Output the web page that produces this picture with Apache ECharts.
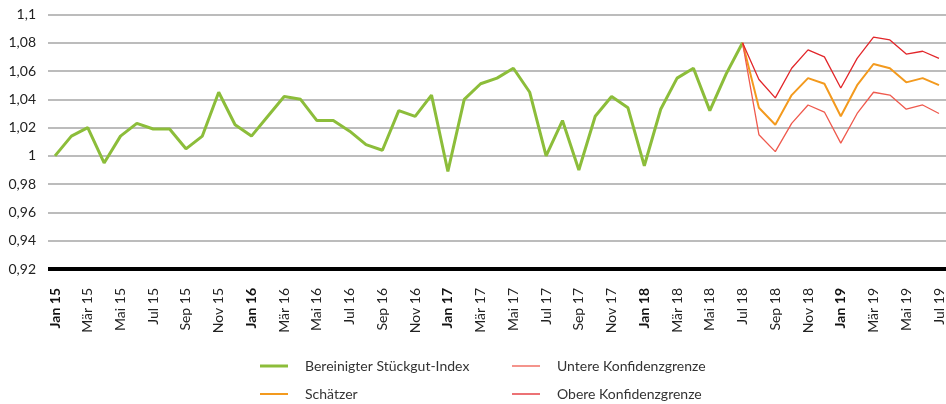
<!DOCTYPE html>
<html>
<head>
<meta charset="utf-8">
<script src="https://cdn.jsdelivr.net/npm/echarts@6/dist/echarts.min.js"></script>
<style>html,body{margin:0;padding:0;background:#fff}#c{width:946px;height:404px}</style>
</head>
<body>
<div id="c"></div>
<script>
const months = ['Jan','Feb','Mär','Apr','Mai','Jun','Jul','Aug','Sep','Okt','Nov','Dez'];
const categories = [];
for (let y = 15; y <= 19; y++) for (let m = 0; m < 12; m++) { if (y === 19 && m > 6) break; categories.push(months[m] + ' ' + y); }

const indexValues = [
  1.000, 1.014, 1.020, 0.995, 1.014, 1.023, 1.019, 1.019, 1.005, 1.014, 1.045, 1.022,
  1.014, 1.028, 1.042, 1.040, 1.025, 1.025, 1.0175, 1.008, 1.004, 1.032, 1.028, 1.043,
  0.989, 1.040, 1.051, 1.055, 1.062, 1.045, 1.000, 1.025, 0.990, 1.028, 1.042, 1.034,
  0.993, 1.033, 1.055, 1.062, 1.032, 1.058, 1.080
];
// forecast values from Jul 18 to Jul 19
const estimate = [1.080, 1.034, 1.022, 1.043, 1.055, 1.051, 1.028, 1.050, 1.065, 1.062, 1.052, 1.055, 1.050];
const lowerBound = [1.080, 1.015, 1.003, 1.023, 1.036, 1.031, 1.009, 1.030, 1.045, 1.043, 1.033, 1.036, 1.030];
const upperBound = [1.080, 1.054, 1.041, 1.062, 1.075, 1.070, 1.048, 1.069, 1.084, 1.082, 1.072, 1.074, 1.069];
const yTicks = {min: 0.92, max: 1.1, interval: 0.02};

const forecastStart = indexValues.length - 1;
function pad(arr) { return new Array(forecastStart).fill(null).concat(arr); }

const FONT = 'Lato';
const C_GREEN = '#8cbd3a', C_ORANGE = '#f39a1e', C_LOW = '#ef5a4e', C_UP = '#e2262a';

function legendItem(name, left, top, h, color) {
  return {left: left, top: top, padding: 0, icon: 'rect', itemWidth: 28, itemHeight: h,
    itemStyle: {color: color}, selectedMode: false,
    textStyle: {fontSize: 14, color: '#333', fontFamily: FONT, padding: [0, 0, 0, 12]},
    data: [name]};
}

const chart = echarts.init(document.getElementById('c'));
chart.setOption({
  animation: false,
  textStyle: {fontFamily: FONT},
  grid: [
    {left: 48, right: 0, top: 14.5, bottom: 135},
    {left: 55, right: 4, top: 14.5, bottom: 135}
  ],
  xAxis: [
    {gridIndex: 0, type: 'category', data: categories, show: false},
    {gridIndex: 1, type: 'category', data: categories, boundaryGap: false,
     axisLine: {show: false}, axisTick: {show: false},
     axisLabel: {interval: 1, rotate: 90, margin: 19, fontSize: 14, color: '#222', fontFamily: FONT,
       formatter: function (v) { return v.indexOf('Jan') === 0 ? '{b|' + v + '}' : v; },
       rich: {b: {fontWeight: 'bold', fontSize: 14, color: '#111', fontFamily: FONT}}}}
  ],
  yAxis: [
    {gridIndex: 0, type: 'value', min: yTicks.min, max: yTicks.max, interval: yTicks.interval,
     axisLine: {show: false}, axisTick: {show: false},
     axisLabel: {margin: 12, fontSize: 14, color: '#222', fontFamily: FONT,
       formatter: function (v) { return String(parseFloat(v.toFixed(2))).replace('.', ','); }},
     splitLine: {show: true, lineStyle: {color: '#a6a6a6', width: 1.5}}},
    {gridIndex: 1, type: 'value', min: yTicks.min, max: yTicks.max, interval: yTicks.interval, show: false,
     splitLine: {show: false}}
  ],
  legend: [
    legendItem('Bereinigter Stückgut-Index', 260, 359, 3, C_GREEN),
    legendItem('Schätzer', 260, 387, 2, C_ORANGE),
    legendItem('Untere Konfidenzgrenze', 512, 359, 1.3, C_LOW),
    legendItem('Obere Konfidenzgrenze', 512, 387, 1.3, C_UP)
  ],
  series: [
    {type: 'line', name: '__base', xAxisIndex: 0, yAxisIndex: 0, data: [], silent: true,
     markLine: {symbol: 'none', silent: true, label: {show: false},
       lineStyle: {color: '#000', width: 4, type: 'solid'}, data: [{yAxis: yTicks.min}]}},
    {type: 'line', name: 'Bereinigter Stückgut-Index', xAxisIndex: 1, yAxisIndex: 1, data: indexValues,
     symbol: 'none', lineStyle: {color: C_GREEN, width: 3}, itemStyle: {color: C_GREEN}},
    {type: 'line', name: 'Schätzer', xAxisIndex: 1, yAxisIndex: 1, data: pad(estimate),
     symbol: 'none', lineStyle: {color: C_ORANGE, width: 2}, itemStyle: {color: C_ORANGE}},
    {type: 'line', name: 'Untere Konfidenzgrenze', xAxisIndex: 1, yAxisIndex: 1, data: pad(lowerBound),
     symbol: 'none', lineStyle: {color: C_LOW, width: 1.3}, itemStyle: {color: C_LOW}},
    {type: 'line', name: 'Obere Konfidenzgrenze', xAxisIndex: 1, yAxisIndex: 1, data: pad(upperBound),
     symbol: 'none', lineStyle: {color: C_UP, width: 1.3}, itemStyle: {color: C_UP}}
  ]
});
</script>
</body>
</html>
